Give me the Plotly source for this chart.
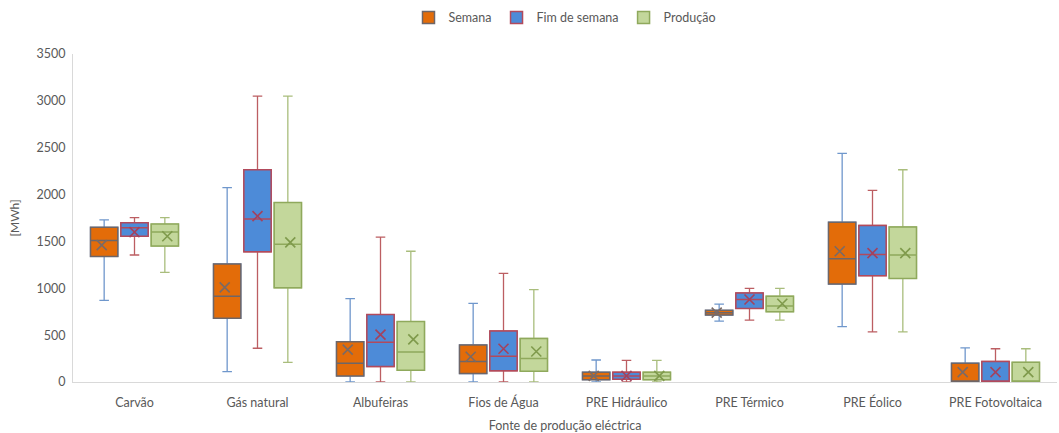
import plotly.graph_objects as go

categories = ["Carvão", "Gás natural", "Albufeiras", "Fios de Água",
              "PRE Hidráulico", "PRE Térmico", "PRE Éolico", "PRE Fotovoltaica"]

# Semana
sem_low = [870, 110, 0, 0, 0, 650, 590, 0]
sem_q1 = [1340, 680, 65, 90, 25, 715, 1045, 0]
sem_med = [1510, 915, 200, 220, 65, 740, 1315, 0]
sem_q3 = [1650, 1260, 430, 395, 105, 765, 1705, 200]
sem_high = [1730, 2075, 890, 840, 235, 830, 2440, 365]
sem_mean = [1460, 1010, 345, 270, 65, 740, 1395, 105]

# Fim de semana
fds_low = [1355, 360, 0, 0, 0, 660, 535, 0]
fds_q1 = [1555, 1390, 165, 120, 30, 785, 1135, 0]
fds_med = [1645, 1740, 425, 275, 65, 880, 1360, 0]
fds_q3 = [1700, 2265, 720, 545, 105, 950, 1670, 220]
fds_high = [1755, 3050, 1545, 1160, 230, 1000, 2045, 355]
fds_mean = [1600, 1770, 505, 355, 65, 880, 1375, 105]

# Produção
prod_low = [1170, 210, 0, 0, 0, 660, 535, 0]
prod_q1 = [1450, 1005, 125, 115, 25, 750, 1105, 0]
prod_med = [1600, 1470, 320, 250, 65, 810, 1355, 0]
prod_q3 = [1685, 1915, 645, 465, 105, 915, 1655, 210]
prod_high = [1755, 3050, 1395, 985, 230, 1000, 2265, 355]
prod_mean = [1555, 1490, 455, 325, 65, 835, 1375, 105]

series = [
    dict(name="Semana", low=sem_low, q1=sem_q1, med=sem_med, q3=sem_q3,
         high=sem_high, mean=sem_mean, fill="#E36C09", border="#6E6668",
         whisker="#6F97CC", cross="#7A6A66"),
    dict(name="Fim de semana", low=fds_low, q1=fds_q1, med=fds_med, q3=fds_q3,
         high=fds_high, mean=fds_mean, fill="#4D8BD8", border="#B24A5C",
         whisker="#BC5E62", cross="#A3425E"),
    dict(name="Produção", low=prod_low, q1=prod_q1, med=prod_med, q3=prod_q3,
         high=prod_high, mean=prod_mean, fill="#C3D79B", border="#8FA95C",
         whisker="#A9BD7C", cross="#7F9A4C"),
]

font_family = "Lato, 'Open Sans', sans-serif"
text_color = "#595959"

fig = go.Figure()
for i, s in enumerate(series):
    grp = f"g{i}"
    # whiskers (full range) in the whisker colour
    fig.add_trace(go.Box(
        x=categories, q1=s["q1"], median=s["med"], q3=s["q3"],
        lowerfence=s["low"], upperfence=s["high"],
        name=s["name"], offsetgroup=grp, legendgroup=grp, showlegend=False,
        fillcolor=s["fill"], line=dict(color=s["whisker"], width=1.3),
        whiskerwidth=0.35, hoverinfo="skip",
    ))
    # box body with its own border and median line
    fig.add_trace(go.Box(
        x=categories, q1=s["q1"], median=s["med"], q3=s["q3"],
        lowerfence=s["q1"], upperfence=s["q3"],
        name=s["name"], offsetgroup=grp, legendgroup=grp, showlegend=True,
        fillcolor=s["fill"], line=dict(color=s["border"], width=1.5),
        whiskerwidth=0,
    ))

# mean crosses drawn as scatter points aligned with the boxes
for i, s in enumerate(series):
    fig.add_trace(go.Scatter(
        x=categories, y=s["mean"], mode="markers", offsetgroup=f"g{i}",
        showlegend=False, hoverinfo="skip",
        marker=dict(symbol="x-thin", size=10,
                    line=dict(color=s["cross"], width=1.6)),
    ))

fig.update_layout(
    width=1059, height=433,
    margin=dict(l=73, r=2, t=54, b=51),
    paper_bgcolor="white", plot_bgcolor="white",
    boxmode="group", scattermode="group",
    boxgap=0.26, boxgroupgap=0.1,
    font=dict(family=font_family, size=12, color=text_color),
    legend=dict(orientation="h", x=0.5, xanchor="center", y=1.11,
                yanchor="middle", font=dict(size=12.5, color=text_color),
                traceorder="normal", itemwidth=30),
    xaxis=dict(
        showline=True, linecolor="#D9D9D9", linewidth=1,
        ticks="", showgrid=False, ticklabelstandoff=9,
        title=dict(text="Fonte de produção eléctrica", standoff=12,
                   font=dict(size=12.5, color=text_color)),
        tickfont=dict(size=12.5, color=text_color),
    ),
    yaxis=dict(
        range=[0, 3500], dtick=500, showgrid=False, zeroline=False,
        showline=True, linecolor="#D9D9D9", linewidth=1, ticks="",
        ticklabelstandoff=4,
        title=dict(text="[MWh]", standoff=14,
                   font=dict(size=12, color=text_color)),
        tickfont=dict(size=12.5, color=text_color),
    ),
)

fig.write_html("out.html")
